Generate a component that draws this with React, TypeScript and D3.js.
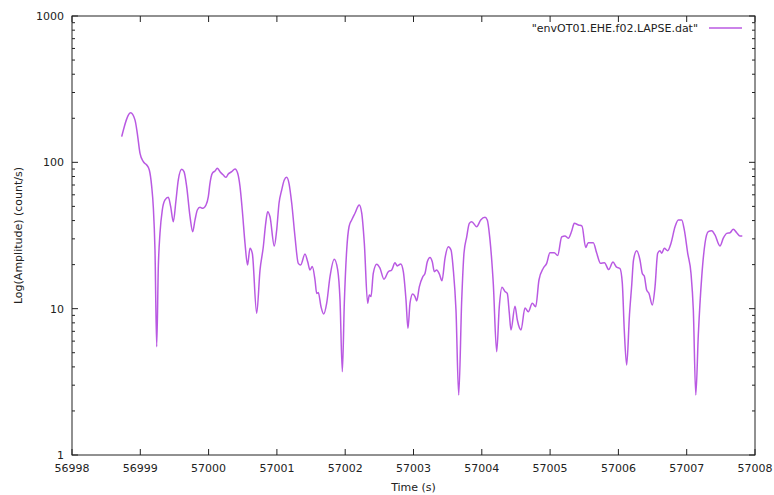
import React from "react";
import * as d3 from "d3";

const seriesName = '"envOT01.EHE.f02.LAPSE.dat"';
const xTicks = [56998, 56999, 57000, 57001, 57002, 57003, 57004, 57005, 57006, 57007, 57008];
const yTicks = [1, 10, 100, 1000];

const times = [
  56998.728, 56998.859, 56998.922, 56998.956, 56998.996, 56999.044, 56999.094, 56999.132, 56999.167, 56999.190,
  56999.215, 56999.240, 56999.264, 56999.288, 56999.322, 56999.362, 56999.410, 56999.445, 56999.483, 56999.523,
  56999.556, 56999.606, 56999.640, 56999.679, 56999.728, 56999.767, 56999.801, 56999.835, 56999.874, 56999.914,
  56999.962, 56999.996, 57000.020, 57000.054, 57000.094, 57000.127, 57000.167, 57000.215, 57000.255, 57000.288,
  57000.338, 57000.387, 57000.426, 57000.460, 57000.493, 57000.533, 57000.570, 57000.606, 57000.640, 57000.704,
  57000.753, 57000.801, 57000.836, 57000.865, 57000.899, 57000.962, 57000.997, 57001.031, 57001.070, 57001.108,
  57001.143, 57001.177, 57001.217, 57001.265, 57001.313, 57001.348, 57001.411, 57001.451, 57001.485, 57001.518,
  57001.558, 57001.583, 57001.606, 57001.646, 57001.685, 57001.729, 57001.777, 57001.840, 57001.890, 57001.924,
  57001.958, 57001.987, 57002.022, 57002.056, 57002.095, 57002.143, 57002.206, 57002.242, 57002.280, 57002.329,
  57002.353, 57002.378, 57002.411, 57002.461, 57002.509, 57002.568, 57002.631, 57002.681, 57002.729, 57002.763,
  57002.813, 57002.851, 57002.890, 57002.919, 57002.949, 57002.988, 57003.022, 57003.047, 57003.085, 57003.135,
  57003.168, 57003.202, 57003.242, 57003.275, 57003.305, 57003.340, 57003.378, 57003.417, 57003.461, 57003.509,
  57003.549, 57003.583, 57003.622, 57003.662, 57003.706, 57003.739, 57003.779, 57003.817, 57003.852, 57003.925,
  57003.984, 57004.047, 57004.080, 57004.120, 57004.168, 57004.218, 57004.256, 57004.296, 57004.340, 57004.373,
  57004.403, 57004.427, 57004.486, 57004.520, 57004.552, 57004.574, 57004.632, 57004.681, 57004.739, 57004.789,
  57004.837, 57004.900, 57004.950, 57004.998, 57005.061, 57005.111, 57005.170, 57005.218, 57005.266, 57005.316,
  57005.354, 57005.416, 57005.467, 57005.521, 57005.559, 57005.632, 57005.682, 57005.738, 57005.796, 57005.858,
  57005.921, 57005.969, 57006.023, 57006.057, 57006.086, 57006.121, 57006.162, 57006.195, 57006.221, 57006.268,
  57006.316, 57006.350, 57006.379, 57006.414, 57006.448, 57006.496, 57006.536, 57006.575, 57006.609, 57006.634,
  57006.672, 57006.722, 57006.770, 57006.829, 57006.877, 57006.927, 57006.965, 57007.015, 57007.063, 57007.097,
  57007.133, 57007.170, 57007.220, 57007.268, 57007.316, 57007.366, 57007.414, 57007.487, 57007.536, 57007.586,
  57007.634, 57007.682, 57007.732, 57007.780, 57007.814,
];

const amplitudes = [
  150, 218, 195, 158, 115, 101, 95.9, 88.6, 68.2, 49.8,
  25.2, 5.5, 19.4, 32.7, 47.2, 55.3, 57.7, 49.8, 39.3, 55.3,
  75.7, 89.6, 86.3, 68.2, 42.5, 33.6, 40.4, 47.2, 49.3, 48.5,
  51.1, 58.2, 71.9, 84.2, 87.3, 91.1, 86.3, 81.9, 79.0, 83.2,
  86.3, 90.1, 84.2, 68.2, 47.2, 28.0, 19.9, 25.9, 23.9, 9.3,
  18.4, 26.5, 38.3, 46.0, 42.5, 26.8, 34.5, 52.5, 64.7, 75.7,
  79.0, 71.9, 52.5, 31.0, 20.4, 19.9, 23.6, 20.9, 18.4, 19.4,
  15.7, 12.7, 12.9, 10.3, 9.19, 10.9, 16.5, 21.8, 18.4, 11.5,
  3.71, 10.9, 25.2, 36.3, 40.4, 44.9, 51.1, 44.9, 28.0, 10.9,
  12.4, 12.1, 17.4, 20.1, 18.9, 15.9, 17.9, 18.4, 20.6, 19.6,
  20.2, 17.9, 11.5, 7.34, 10.9, 12.6, 12.1, 11.3, 14.1, 16.5,
  17.4, 20.9, 22.4, 20.9, 17.9, 18.4, 17.3, 15.5, 22.1, 26.5,
  25.2, 18.4, 9.79, 2.57, 11.5, 23.9, 31.0, 38.3, 39.3, 36.3,
  40.4, 42.1, 40.4, 29.5, 14.9, 5.08, 10.3, 14.0, 13.1, 12.7,
  9.3, 7.15, 10.4, 8.37, 7.38, 7.15, 10.1, 9.53, 10.9, 10.3,
  15.7, 18.9, 20.4, 24.1, 24.1, 23.1, 30.9, 31.4, 30.3, 33.9,
  38.3, 37.3, 36.7, 26.2, 28.2, 28.2, 24.0, 20.4, 20.6, 18.5,
  20.8, 19.3, 18.8, 15.0, 7.15, 4.12, 9.05, 14.5, 21.5, 24.9,
  21.5, 17.4, 16.7, 13.4, 12.7, 10.6, 14.1, 23.9, 24.9, 23.9,
  25.9, 24.9, 28.0, 36.3, 40.4, 40.4, 34.5, 23.9, 17.4, 9.79,
  2.57, 6.61, 16.5, 28.0, 33.6, 34.1, 31.9, 26.8, 30.3, 32.7,
  33.0, 34.9, 33.0, 31.4, 31.4,
];

const W = 774;
const H = 495;
const M = { left: 72, right: 755, top: 16, bottom: 455 };
const FONT = "DejaVu Sans, sans-serif";
const AXIS = "#222";

export default function App() {
  const x = d3.scaleLinear().domain([56998, 57008]).range([M.left, M.right]);
  const y = d3.scaleLog().domain([1, 1000]).range([M.bottom, M.top]);

  const data = times.map((t, i) => [t, amplitudes[i]] as [number, number]);
  const line = d3
    .line<[number, number]>()
    .x((d) => x(d[0]))
    .y((d) => y(d[1]))
    .curve(d3.curveMonotoneX);

  const minor: number[] = [];
  for (let e = 0; e < 3; e++) {
    for (let k = 2; k <= 9; k++) minor.push(k * Math.pow(10, e));
  }

  return (
    <svg
      width={W}
      height={H}
      style={{ position: "absolute", left: 0, top: 0, background: "#fff" }}
      fontFamily={FONT}
    >
      <rect x={0} y={0} width={W} height={H} fill="#fff" />
      {/* ticks */}
      {xTicks.map((t) => (
        <g key={"xt" + t}>
          <line x1={x(t)} x2={x(t)} y1={M.bottom} y2={M.bottom - 6} stroke={AXIS} strokeWidth={1} />
          <line x1={x(t)} x2={x(t)} y1={M.top} y2={M.top + 6} stroke={AXIS} strokeWidth={1} />
          <text x={x(t)} y={M.bottom + 17} fontSize={11} textAnchor="middle" fill="#222">
            {t}
          </text>
        </g>
      ))}
      {yTicks.map((v) => (
        <g key={"yt" + v}>
          <line x1={M.left} x2={M.left + 6} y1={y(v)} y2={y(v)} stroke={AXIS} strokeWidth={1} />
          <line x1={M.right} x2={M.right - 6} y1={y(v)} y2={y(v)} stroke={AXIS} strokeWidth={1} />
          <text x={M.left - 8} y={y(v) + 4} fontSize={11} textAnchor="end" fill="#222">
            {v}
          </text>
        </g>
      ))}
      {minor.map((v) => (
        <g key={"mt" + v}>
          <line x1={M.left} x2={M.left + 3} y1={y(v)} y2={y(v)} stroke={AXIS} strokeWidth={1} />
          <line x1={M.right} x2={M.right - 3} y1={y(v)} y2={y(v)} stroke={AXIS} strokeWidth={1} />
        </g>
      ))}
      {/* frame */}
      <rect
        x={M.left}
        y={M.top}
        width={M.right - M.left}
        height={M.bottom - M.top}
        fill="none"
        stroke={AXIS}
        strokeWidth={1}
      />
      {/* data */}
      <path d={line(data) || ""} fill="none" stroke="#9400d3" strokeOpacity={0.65} strokeWidth={1.5} />
      {/* legend */}
      <text x={698} y={32} fontSize={11} textAnchor="end" fill="#222">
        {seriesName}
      </text>
      <line x1={709} x2={742} y1={28} y2={28} stroke="#9400d3" strokeOpacity={0.65} strokeWidth={1.5} />
      {/* axis labels */}
      <text x={(M.left + M.right) / 2} y={491} fontSize={11} textAnchor="middle" fill="#222">
        Time (s)
      </text>
      <text
        transform={`translate(22, ${(M.top + M.bottom) / 2}) rotate(-90)`}
        fontSize={11}
        textAnchor="middle"
        fill="#222"
      >
        Log(Amplitude) (count/s)
      </text>
    </svg>
  );
}
